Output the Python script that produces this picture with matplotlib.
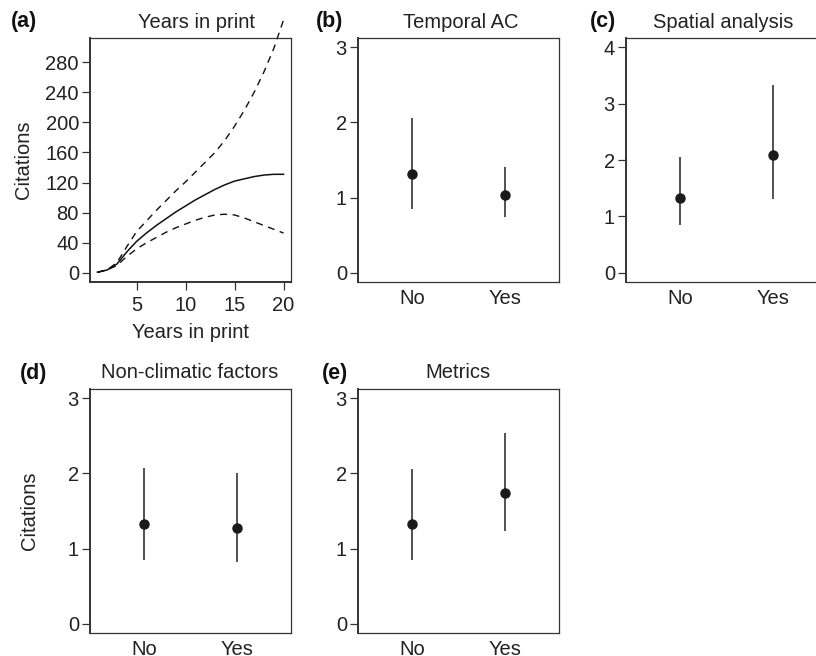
import numpy as np
import matplotlib.pyplot as plt

plt.rcParams['font.family'] = ['Liberation Sans', 'DejaVu Sans']

# panel (a): fitted citations vs years in print, with upper/lower bands
years = np.arange(1, 21)
fit = [1, 4, 12, 28, 42, 53, 63, 72, 81, 89, 97, 104, 111, 117, 122, 125, 128, 130, 131, 131]
upper = [1, 4, 14, 35, 55, 69, 83, 96, 109, 121, 134, 147, 160, 176, 195, 216, 240, 267, 298, 336]
lower = [1, 4, 10, 22, 32, 40, 47, 54, 60, 65, 70, 74, 77, 78, 77, 73, 68, 63, 58, 53]

# panels (b)-(e): estimate with lower/upper interval for No / Yes
groups = ['No', 'Yes']
temporal_est = [1.32, 1.03]
temporal_lo = [0.85, 0.74]
temporal_hi = [2.06, 1.41]
spatial_est = [1.32, 2.08]
spatial_lo = [0.85, 1.31]
spatial_hi = [2.06, 3.33]
nonclim_est = [1.33, 1.27]
nonclim_lo = [0.85, 0.82]
nonclim_hi = [2.07, 2.00]
metrics_est = [1.33, 1.74]
metrics_lo = [0.85, 1.23]
metrics_hi = [2.06, 2.53]

W, H = 816, 656
fig = plt.figure(figsize=(W / 100, H / 100), dpi=100)


def px_axes(left, top, width, height):
    return fig.add_axes([left / W, 1 - (top + height) / H, width / W, height / H])


def style(ax, thick_bottom=False):
    for s in ax.spines.values():
        s.set_linewidth(0.9)
        s.set_color('#333333')
    ax.spines['left'].set_linewidth(1.4)
    if thick_bottom:
        ax.spines['bottom'].set_linewidth(1.4)
    ax.tick_params(axis='y', length=6, width=0.9, pad=2, labelsize=14.5, colors='#333333',
                   labelcolor='#222222')
    ax.tick_params(axis='x', length=6, width=0.9, pad=4, labelsize=14.5, colors='#333333',
                   labelcolor='#222222')


def ci_panel(ax, est, lo, hi, ymax):
    x = np.arange(1, len(groups) + 1)
    ax.vlines(x, lo, hi, color='#333333', lw=1.2)
    ax.plot(x, est, 'o', color='#1a1a1a', ms=6.5)
    ax.set_xlim(0.42, 2.58)
    ax.set_ylim(-0.04 * ymax, ymax * 1.04)
    ax.set_yticks(range(0, ymax + 1))
    ax.set_xticks(x)
    ax.set_xticklabels(groups)
    style(ax)
    ax.tick_params(axis='x', length=0, pad=5)


cols = [90, 358, 626]
rows = [38, 389]
aw, ah = 201, 244

# (a)
ax = px_axes(cols[0], rows[0], aw, ah)
ax.plot(years, fit, color='#111111', lw=1.1)
ax.plot(years, upper, color='#111111', lw=1.0, ls=(0, (5, 4)), clip_on=False)
ax.plot(years, lower, color='#111111', lw=1.0, ls=(0, (5, 4)))
ax.set_xlim(0.24, 20.76)
ax.set_ylim(-12, 312)
ax.set_yticks(range(0, 281, 40))
ax.set_xticks([5, 10, 15, 20])
style(ax, thick_bottom=True)

# (b) (c)
ax = px_axes(cols[1], rows[0], aw, ah)
ci_panel(ax, temporal_est, temporal_lo, temporal_hi, 3)
ax = px_axes(cols[2], rows[0], aw, ah)
ci_panel(ax, spatial_est, spatial_lo, spatial_hi, 4)

# (d) (e)
ax = px_axes(cols[0], rows[1], aw, ah)
ci_panel(ax, nonclim_est, nonclim_lo, nonclim_hi, 3)
ax = px_axes(cols[1], rows[1], aw, ah)
ci_panel(ax, metrics_est, metrics_lo, metrics_hi, 3)


def ftext(x, y, s, **kw):
    fig.text(x / W, 1 - y / H, s, **kw)


tkw = dict(fontsize=14.5, color='#222222', ha='center', va='center')
ftext(196, 22, 'Years in print', **tkw)
ftext(461, 22, 'Temporal AC', **tkw)
ftext(723, 22, 'Spatial analysis', **tkw)
ftext(190, 373, 'Non-climatic factors', **tkw)
ftext(458, 373, 'Metrics', **tkw)

lkw = dict(fontsize=15.5, fontweight='bold', color='#111111', ha='left', va='center')
ftext(11, 22, '(a)', **lkw)
ftext(316, 22, '(b)', **lkw)
ftext(590, 22, '(c)', **lkw)
ftext(20, 373, '(d)', **lkw)
ftext(322, 373, '(e)', **lkw)

ftext(190, 333, 'Years in print', **tkw)
ftext(23, 160, 'Citations', rotation=90, **tkw)
ftext(30, 511, 'Citations', rotation=90, **tkw)

fig.savefig('out.png', dpi=100)
